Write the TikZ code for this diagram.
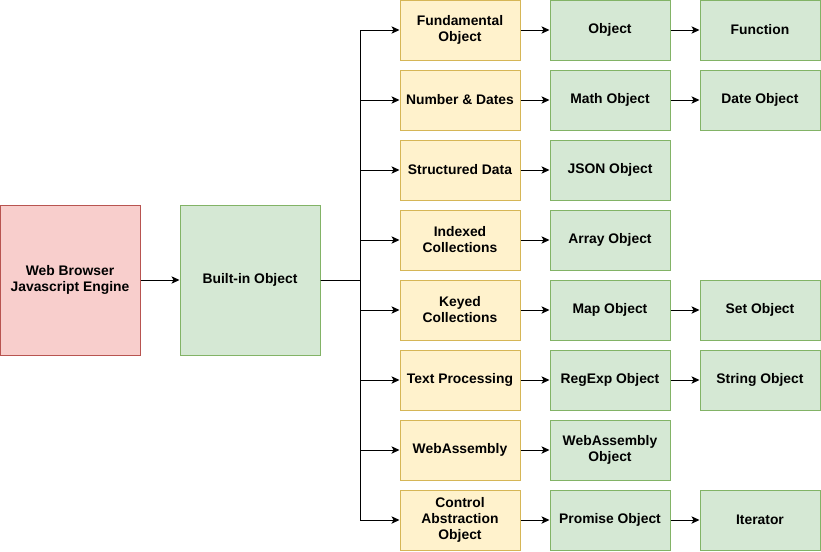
\documentclass[tikz,border=0pt]{standalone}
\usepackage{fontspec}
\setmainfont{Liberation Sans}
\usetikzlibrary{arrows.meta}
\definecolor{jsRedFill}{HTML}{F8CECC}
\definecolor{jsRedLine}{HTML}{B85450}
\definecolor{jsGreenFill}{HTML}{D5E8D4}
\definecolor{jsGreenLine}{HTML}{82B366}
\definecolor{jsGoldFill}{HTML}{FFF2CC}
\definecolor{jsGoldLine}{HTML}{D6B656}
\tikzset{
  js box/.style={rectangle, line width=0.75pt, inner sep=1pt, align=center,
    font=\fontsize{10.4}{12}\selectfont\bfseries},
  js engine/.style={js box, draw=jsRedLine, fill=jsRedFill, minimum width=105pt, minimum height=112.5pt},
  js root/.style={js box, draw=jsGreenLine, fill=jsGreenFill, minimum width=105pt, minimum height=112.5pt},
  js cat/.style={js box, draw=jsGoldLine, fill=jsGoldFill, minimum width=90pt, minimum height=45pt},
  js obj/.style={js box, draw=jsGreenLine, fill=jsGreenFill, minimum width=90pt, minimum height=45pt},
  js arrow/.style={draw=black, line width=0.75pt, -{Stealth[length=6pt, width=5.5pt, inset=1.5pt]}},
}

\begin{document}
\begin{tikzpicture}[x=0.75pt, y=-0.75pt]
  % page size: 821 x 551 px
  \useasboundingbox (0,0) rectangle (821,551);

  % Engine and root
  \node[js engine] (engine) at (70,280) {Web Browser\\Javascript Engine};
  \node[js root] (builtin) at (250,280) {Built-in Object};
  \draw[js arrow] (engine) -- (builtin);

  % Spine of the tree
  \coordinate (spine) at (360,280);

  % Categories
  \foreach \i/\txt in {0/{Fundamental\\Object}, 1/{Number \& Dates}, 2/{Structured Data},
      3/{Indexed\\Collections}, 4/{Keyed\\Collections}, 5/{Text Processing},
      6/{WebAssembly}, 7/{Control\\Abstraction\\Object}} {
    \node[js cat] (cat\i) at (460,30+70*\i) {\txt};
    \draw[js arrow] (builtin.east) -- (spine) |- (cat\i.west);
  }

  % First level objects
  \foreach \i/\txt in {0/{Object}, 1/{Math Object}, 2/{JSON Object}, 3/{Array Object},
      4/{Map Object}, 5/{RegExp Object}, 6/{WebAssembly\\Object}, 7/{Promise Object}} {
    \node[js obj] (obj\i) at (610,30+70*\i) {\txt};
    \draw[js arrow] (cat\i) -- (obj\i);
  }

  % Second level objects
  \foreach \i/\txt in {0/{Function}, 1/{Date Object}, 4/{Set Object},
      5/{String Object}, 7/{Iterator}} {
    \node[js obj] (sub\i) at (760,30+70*\i) {\txt};
    \draw[js arrow] (obj\i) -- (sub\i);
  }
\end{tikzpicture}
\end{document}
